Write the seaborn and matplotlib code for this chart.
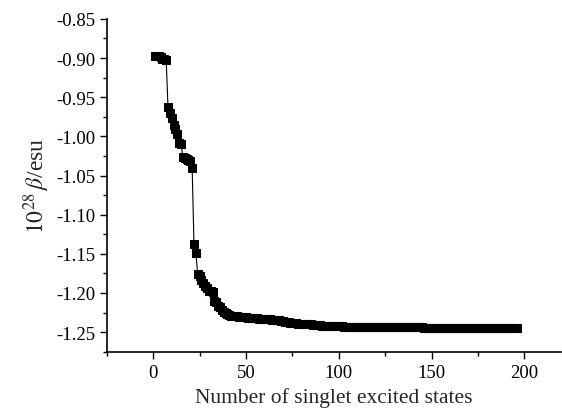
import matplotlib
matplotlib.use("Agg")
import matplotlib.pyplot as plt
import numpy as np
import pandas as pd
import seaborn as sns
from matplotlib.ticker import MultipleLocator

# number of singlet excited states included in the SOS sum
states = np.arange(1, 197)

# 10^28 beta (esu), one value per state
beta = [
    -0.897, -0.897, -0.898, -0.899, -0.901, -0.901, -0.902, -0.963, -0.970, -0.976,   # 1-10
    -0.985, -0.990, -0.997, -1.008, -1.010, -1.026, -1.028, -1.029, -1.030, -1.032,   # 11-20
    -1.040, -1.138, -1.149, -1.176, -1.178, -1.183, -1.187, -1.191, -1.194, -1.197,   # 21-30
    -1.198, -1.199, -1.210, -1.212, -1.216, -1.218, -1.222, -1.224, -1.225, -1.227,   # 31-40
    -1.228, -1.229, -1.229, -1.230, -1.230, -1.231, -1.231, -1.231, -1.231, -1.231,   # 41-50
    -1.232, -1.232, -1.232, -1.232, -1.232, -1.232, -1.233, -1.233, -1.233, -1.233,   # 51-60
    -1.233, -1.233, -1.233, -1.234, -1.234, -1.234, -1.235, -1.235, -1.236, -1.236,   # 61-70
    -1.237, -1.237, -1.237, -1.238, -1.238, -1.238, -1.238, -1.239, -1.239, -1.239,   # 71-80
    -1.240, -1.240, -1.240, -1.240, -1.240, -1.241, -1.241, -1.241, -1.241, -1.241,   # 81-90
    -1.242, -1.242, -1.242, -1.242, -1.242, -1.242, -1.242, -1.242, -1.242, -1.242,   # 91-100
    -1.242, -1.242, -1.243, -1.243, -1.243, -1.243, -1.243, -1.243, -1.243, -1.243,   # 101-110
    -1.243, -1.243, -1.243, -1.243, -1.243, -1.244, -1.244, -1.244, -1.244, -1.244,   # 111-120
    -1.244, -1.244, -1.244, -1.244, -1.244, -1.244, -1.244, -1.244, -1.244, -1.244,   # 121-130
    -1.244, -1.244, -1.244, -1.244, -1.244, -1.244, -1.244, -1.244, -1.244, -1.244,   # 131-140
    -1.244, -1.244, -1.244, -1.244, -1.244, -1.245, -1.245, -1.245, -1.245, -1.245,   # 141-150
    -1.245, -1.245, -1.245, -1.245, -1.245, -1.245, -1.245, -1.245, -1.245, -1.245,   # 151-160
    -1.245, -1.245, -1.245, -1.245, -1.245, -1.245, -1.245, -1.245, -1.245, -1.245,   # 161-170
    -1.245, -1.245, -1.245, -1.245, -1.245, -1.245, -1.245, -1.245, -1.245, -1.245,   # 171-180
    -1.245, -1.245, -1.245, -1.245, -1.245, -1.245, -1.245, -1.245, -1.245, -1.245,   # 181-190
    -1.245, -1.245, -1.245, -1.245, -1.245, -1.245,                                   # 191-196
]

df = pd.DataFrame({"states": states, "beta": beta})

sns.set_style("ticks")
plt.rcParams['font.family'] = ['Liberation Serif', 'DejaVu Serif']
plt.rcParams['mathtext.fontset'] = 'stix'
plt.rcParams['xtick.direction'] = 'out'
plt.rcParams['ytick.direction'] = 'out'

fig = plt.figure(figsize=(5.62, 4.14), dpi=100)
ax = fig.add_axes([0.19, 0.148, 0.809, 0.804])

sns.lineplot(data=df, x="states", y="beta", ax=ax, color="black", linewidth=0.8,
             marker="s", markersize=5.5, markeredgecolor="black", markerfacecolor="black")

ax.set_xlim(-25, 220)
ax.set_ylim(-1.275, -0.85)
ax.xaxis.set_major_locator(MultipleLocator(50))
ax.xaxis.set_minor_locator(MultipleLocator(25))
ax.yaxis.set_major_locator(MultipleLocator(0.05))
ax.yaxis.set_minor_locator(MultipleLocator(0.025))
ax.yaxis.set_major_formatter(plt.FormatStrFormatter('%.2f'))
ax.tick_params(which='major', length=5, width=1, labelsize=13.5, color='black', labelcolor='black')
ax.tick_params(which='minor', length=3, width=1, color='black')

for side in ['top', 'right']:
    ax.spines[side].set_visible(False)
for side in ['left', 'bottom']:
    ax.spines[side].set_linewidth(1.2)
    ax.spines[side].set_color('black')

ax.set_xlabel('Number of singlet excited states', fontsize=15.5, labelpad=5)
ax.set_ylabel(r'$10^{28}\,\beta$/esu', fontsize=17, labelpad=3)

fig.savefig('out.png', dpi=100)
plt.close(fig)
